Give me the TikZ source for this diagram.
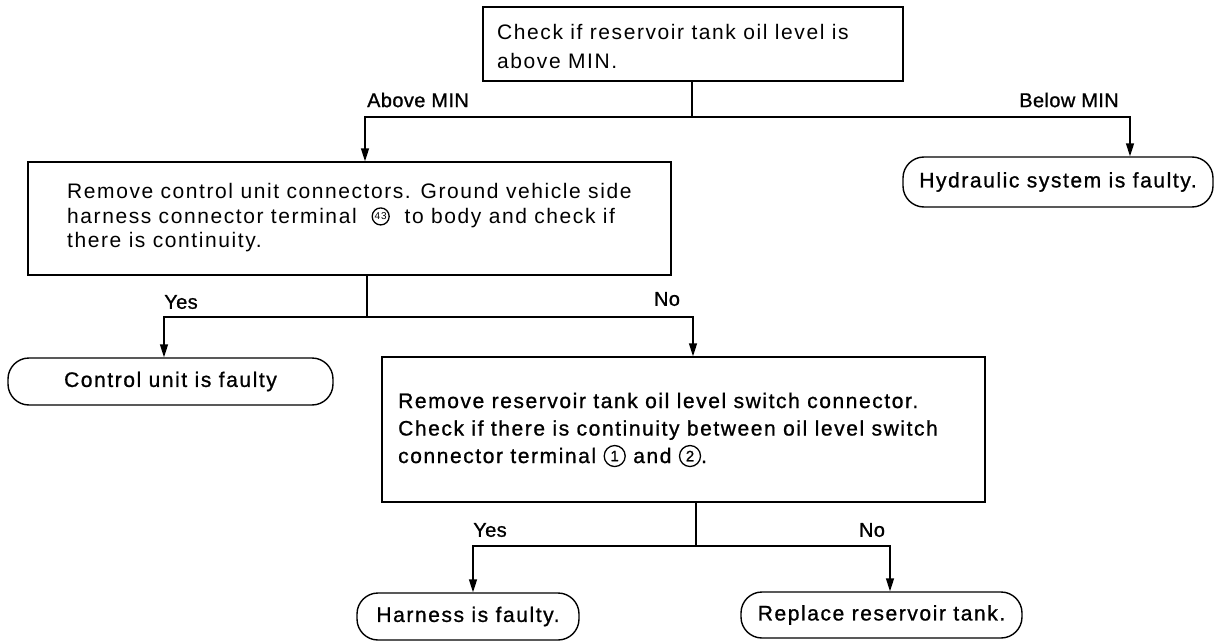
\documentclass[tikz,border=0pt]{standalone}
\usepackage{fontspec}
\setmainfont[LetterSpace=7.5]{Liberation Sans}
\newfontfamily\boldish[LetterSpace=7.5,FakeBold=1]{Liberation Sans}
\newfontfamily\labfont[LetterSpace=2,FakeBold=1]{Liberation Sans}
\usetikzlibrary{arrows.meta}
\newcommand{\circnum}[4]{\tikz[baseline={([yshift=-7pt]#1.center)}]\node[draw,circle,line width=1.3pt,inner sep=0pt,minimum size=#3,font=\fontsize{#4}{#4}\selectfont] (#1) {#2};}
\tikzset{
  box/.style={draw, line width=1.4pt, inner sep=0pt},
  term/.style={draw, line width=1.4pt, rounded corners=21pt, inner sep=0pt, font=\boldish\fontsize{21}{24}\selectfont},
  txt/.style={align=left, inner sep=0pt},
  lab/.style={inner sep=0pt, font=\labfont\fontsize{20}{22}\selectfont},
  ln/.style={line width=1.4pt},
  arr/.style={line width=1.4pt, -{Triangle[length=13pt,width=8pt]}}
}
\begin{document}
\begin{tikzpicture}[x=1pt,y=-1pt]
\useasboundingbox (0,0) rectangle (1219,642);
% boxes
\node[box, minimum width=420pt, minimum height=74pt] (q1) at (693,44) {};
\node[txt, anchor=west, font=\fontsize{21}{29}\selectfont] (q1t) at (497,46) {Check if reservoir tank oil level is\\above MIN.};
\node[box, minimum width=643pt, minimum height=113pt] (q2) at (349.5,218.5) {};
\node[txt, anchor=west, font=\fontsize{21}{24.5}\selectfont] (q2t) at (67,218) {Remove control unit connectors. Ground vehicle side\\harness connector terminal \ \circnum{c43}{43}{17pt}{10}\ \ to body and check if\\there is continuity.};
\node[box, minimum width=603pt, minimum height=145pt] (q3) at (683.5,429.5) {};
\node[txt, anchor=west, font=\boldish\fontsize{21}{27.5}\selectfont] (q3t) at (398,430) {Remove reservoir tank oil level switch connector.\\Check if there is continuity between oil level switch\\connector terminal \circnum{c1}{1}{21pt}{15} and \circnum{c2}{2}{21pt}{15}.};
% terminals
\node[term, minimum width=310pt, minimum height=50pt] (t1) at (1058,182) {Hydraulic system is faulty.};
\node[term, minimum width=325pt, minimum height=47pt] (t2) at (170.5,381.5) {Control unit is faulty};
\node[term, minimum width=222pt, minimum height=47pt] (t3) at (468,616.5) {Harness is faulty.};
\node[term, minimum width=281pt, minimum height=46pt] (t4) at (881.5,615) {Replace reservoir tank.};
% junctions
\coordinate (j1) at (692,117);
\coordinate (j2) at (367,317);
\coordinate (j3) at (696,546);
% connectors
\draw[ln] (j1 |- q1.south) -- (j1);
\draw[arr] (j1) -| ([xshift=15.5pt]q2.north);
\draw[arr] (j1) -| ([xshift=72pt]t1.north);
\draw[ln] (j2 |- q2.south) -- (j2);
\draw[arr] (j2) -| ([xshift=-6.5pt]t2.north);
\draw[arr] (j2) -| ([xshift=9.5pt]q3.north);
\draw[ln] (j3 |- q3.south) -- (j3);
\draw[arr] (j3) -| ([xshift=5pt]t3.north);
\draw[arr] (j3) -| ([xshift=8.5pt]t4.north);
% labels
\node[lab] (l1) at (418,100) {Above MIN};
\node[lab] (l2) at (1069,100) {Below MIN};
\node[lab] (l3) at (181,302) {Yes};
\node[lab] (l4) at (667,299) {No};
\node[lab] (l5) at (490,530) {Yes};
\node[lab] (l6) at (872,530) {No};
\end{tikzpicture}
\end{document}
